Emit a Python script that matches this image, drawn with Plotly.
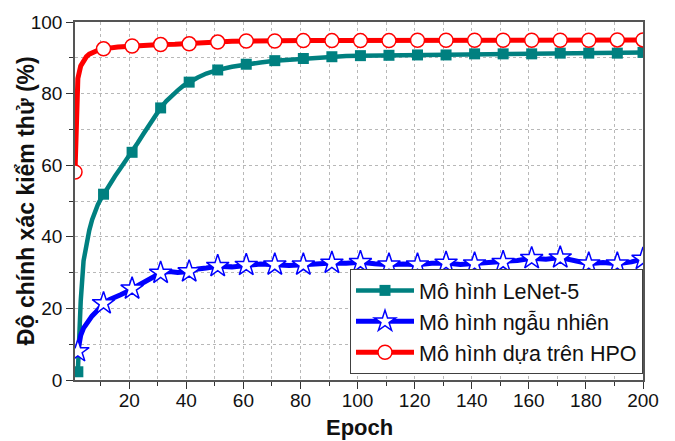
import plotly.graph_objects as go

# ---------------- data ----------------
lenet_epochs = [2, 3, 4, 5, 6, 7, 8, 9, 10, 11, 13, 15, 17, 19, 21, 23, 25, 27, 29, 31,
                33, 35, 37, 39, 41, 44, 47, 51, 56, 61, 66, 71, 76, 81, 86, 91, 96, 101,
                111, 121, 131, 141, 151, 161, 171, 181, 191, 200]
lenet_acc = [2.3, 22.0, 33.3, 38.3, 41.8, 44.8, 47.1, 49.0, 50.5, 51.9, 54.4, 56.9, 59.2,
             61.4, 63.6, 66.3, 68.8, 71.3, 73.8, 76.0, 77.9, 79.5, 80.9, 82.2, 83.2, 84.5,
             85.6, 86.6, 87.5, 88.2, 88.7, 89.2, 89.5, 89.8, 90.1, 90.3, 90.5, 90.6, 90.7,
             90.8, 90.8, 91.1, 91.1, 91.1, 91.3, 91.3, 91.3, 91.5]
lenet_marker_epochs = [2, 11, 21, 31, 41, 51, 61, 71, 81, 91, 101, 111, 121, 131, 141,
                       151, 161, 171, 181, 191, 200]

random_epochs = [2, 3, 4, 5, 6, 7, 8, 9, 10, 11, 13, 15, 17, 19, 21, 23, 25, 27, 29, 31,
                 34, 37, 41, 44, 47, 51, 56, 61, 66, 71, 76, 81, 86, 91, 96, 101, 106, 111,
                 116, 121, 126, 131, 136, 141, 146, 151, 156, 161, 166, 171, 176, 181, 186,
                 191, 196, 200]
random_acc = [8.0, 12.5, 14.5, 15.8, 16.9, 17.9, 18.7, 19.6, 20.5, 21.4, 22.4, 23.0, 23.8,
              24.6, 25.5, 26.3, 27.3, 28.3, 29.3, 29.9, 30.3, 30.0, 30.3, 31.0, 31.3, 31.8,
              31.6, 32.1, 32.4, 32.2, 32.0, 32.2, 32.5, 32.7, 32.6, 32.9, 32.5, 32.2, 32.4,
              32.2, 32.6, 32.7, 32.3, 32.5, 32.8, 32.9, 33.4, 34.0, 33.7, 34.2, 33.2, 32.5,
              32.8, 32.5, 33.0, 33.8]
random_marker_epochs = [2, 11, 21, 31, 41, 51, 61, 71, 81, 91, 101, 111, 121, 131, 141,
                        151, 161, 171, 181, 191, 200]

hpo_epochs = [1, 2, 3, 4, 5, 6, 7, 8, 9, 10, 11, 16, 21, 26, 31, 36, 41, 46, 51, 56, 61,
              71, 81, 91, 101, 111, 121, 131, 141, 151, 161, 171, 181, 191, 200]
hpo_acc = [58.1, 84.2, 87.7, 89.3, 90.3, 91.0, 91.5, 91.8, 92.1, 92.3, 92.5, 93.0, 93.3,
           93.5, 93.7, 93.8, 93.9, 94.1, 94.4, 94.6, 94.7, 94.7, 94.8, 94.8, 94.8, 94.8,
           94.9, 94.9, 94.9, 94.9, 94.9, 94.9, 94.9, 95.0, 95.0]
hpo_marker_epochs = [1, 11, 21, 31, 41, 51, 61, 71, 81, 91, 101, 111, 121, 131, 141, 151,
                     161, 171, 181, 191, 200]

series_names = ["Mô hình LeNet-5", "Mô hình ngẫu nhiên", "Mô hình dựa trên HPO"]
x_title = "Epoch"
y_title = "Độ chính xác kiểm thử (%)"

# ---------------- styles ----------------
FONT = "Arial, Liberation Sans, sans-serif"
styles = [
    dict(color="#008080", width=4.5, symbol="square", size=11, fill="#008080", lw=0),
    dict(color="#0000FF", width=5, symbol="star", size=17, fill="#FFFFFF", lw=1.5),
    dict(color="#FF0000", width=5, symbol="circle", size=14, fill="#FFFFFF", lw=1.5),
]
data = [
    (lenet_epochs, lenet_acc, lenet_marker_epochs),
    (random_epochs, random_acc, random_marker_epochs),
    (hpo_epochs, hpo_acc, hpo_marker_epochs),
]

fig = go.Figure()
for name, (ex, ey, mx), st in zip(series_names, data, styles):
    lookup = dict(zip(ex, ey))
    my = [lookup[e] for e in mx]
    fig.add_trace(go.Scatter(x=ex, y=ey, mode="lines", showlegend=False,
                             line=dict(color=st["color"], width=st["width"]),
                             hoverinfo="skip", cliponaxis=True))
    fig.add_trace(go.Scatter(x=mx, y=my, mode="markers", showlegend=False,
                             marker=dict(symbol=st["symbol"], size=st["size"],
                                         color=st["fill"],
                                         line=dict(color=st["color"], width=st["lw"])),
                             cliponaxis=True))
# legend entries
for name, st in zip(series_names, styles):
    fig.add_trace(go.Scatter(x=[None], y=[None], mode="lines+markers", name=name,
                             line=dict(color=st["color"], width=st["width"]),
                             marker=dict(symbol=st["symbol"], size=st["size"],
                                         color=st["fill"],
                                         line=dict(color=st["color"], width=st["lw"]))))

axis_common = dict(
    showline=True, linecolor="#555555", linewidth=1.5, mirror=True,
    ticks="outside", ticklen=7, tickwidth=1.2, tickcolor="#333333",
    showgrid=True, gridcolor="#b8b8b8", gridwidth=1, griddash="dot",
    zeroline=False,
    tickfont=dict(family=FONT, size=19, color="#111111"),
)
fig.update_xaxes(range=[1, 200], tick0=0, dtick=20, ticklabelstandoff=-5,
                 minor=dict(dtick=10, tick0=0, ticks="outside", ticklen=4,
                            tickcolor="#333333", showgrid=True, gridcolor="#b8b8b8",
                            griddash="dot"),
                 **axis_common)
fig.update_yaxes(range=[0, 100], tick0=0, dtick=20,
                 minor=dict(dtick=10, tick0=0, ticks="outside", ticklen=4,
                            tickcolor="#333333", showgrid=True, gridcolor="#b8b8b8",
                            griddash="dot"),
                 **axis_common)

fig.update_layout(
    width=675, height=441,
    margin=dict(l=75, r=32, t=16, b=61),
    paper_bgcolor="white", plot_bgcolor="white",
    font=dict(family=FONT, color="#111111"),
    legend=dict(x=1, xanchor="right", y=0.017, yanchor="bottom",
                bgcolor="white", bordercolor="#404040", borderwidth=1,
                font=dict(family=FONT, size=21.5, color="#111111"),
                tracegroupgap=0, itemwidth=58),
    annotations=[
        dict(text=f"<b>{y_title}</b>", xref="paper", yref="paper",
             x=-0.086, y=0.5, xanchor="center", yanchor="middle", textangle=-90,
             showarrow=False, font=dict(family=FONT, size=23, color="#111111")),
        dict(text=f"<b>{x_title}</b>", xref="paper", yref="paper",
             x=0.5, y=-0.132, xanchor="center", yanchor="middle",
             showarrow=False, font=dict(family=FONT, size=22, color="#111111")),
    ],
)

fig.write_html("out.html")
